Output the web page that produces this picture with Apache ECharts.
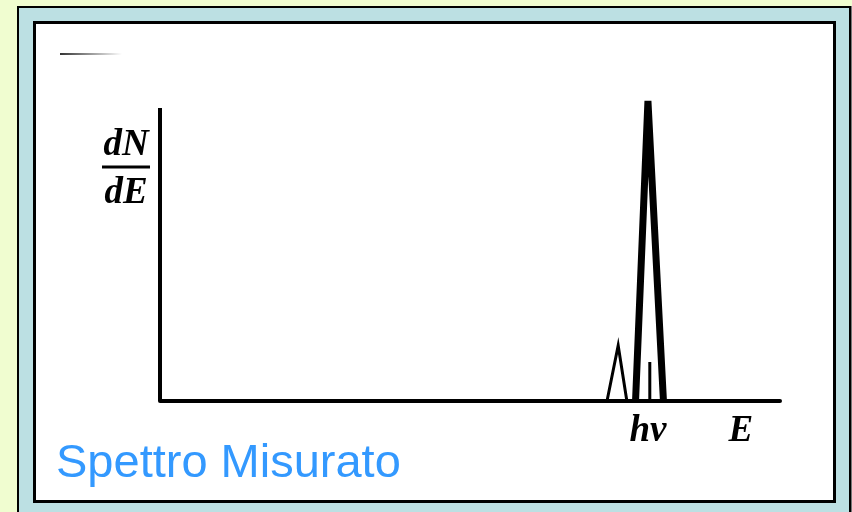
<!DOCTYPE html>
<html>
<head>
<meta charset="utf-8">
<script src="https://cdn.jsdelivr.net/npm/echarts@6/dist/echarts.min.js"></script>
<style>
  html, body { margin: 0; padding: 0; width: 852px; height: 512px; overflow: hidden; background: #f0fdd0; }
  #outer { position: absolute; left: 17px; top: 6px; width: 834px; height: 530px; box-sizing: border-box; background: #bce0e3; border: 2px solid #000; box-shadow: 1px 0 0 #777; }
  #inner { position: absolute; left: 33px; top: 21px; width: 803px; height: 482px; box-sizing: border-box; background: #fff; border: 3px solid #000; }
  #deco { position: absolute; left: 60px; top: 53px; width: 62px; height: 2px; background: linear-gradient(to right, #333, #fff); }
  #chart { position: absolute; left: 0; top: 0; width: 852px; height: 512px; }
</style>
</head>
<body>
<div id="outer"></div>
<div id="inner"></div>
<div id="deco"></div>
<div id="chart"></div>
<script>
// Energy axis (arbitrary units 0..100) and dN/dE (arbitrary units 0..100)
const mainPeakX = [76.7, 78.7, 81.2];
const mainPeakY = [0, 100, 0];
const smallPeakX = [72.1, 73.9, 75.3];
const smallPeakY = [0, 18.5, 0];
const innerBarX = [79.0, 79.0];
const innerBarY = [0, 13];
const yAxisLineX = [0, 0];
const yAxisLineY = [0, 97.7];
const tickValues = [78.7, 93.7];
const tickLabels = ['hν', 'E'];
const yLabelTop = 'dN';
const yLabelBottom = 'dE';
const captionText = 'Spettro Misurato';

const zip = (xs, ys) => xs.map((x, i) => [x, ys[i]]);
const serif = 'bold italic 37px "Liberation Serif", "DejaVu Serif", serif';

const chart = echarts.init(document.getElementById('chart'), null, { renderer: 'canvas' });
chart.setOption({
  backgroundColor: 'transparent',
  animation: false,
  grid: { left: 160, right: 72, top: 101, bottom: 111, containLabel: false },
  xAxis: {
    type: 'value', min: 0, max: 100,
    axisLine: { show: true, lineStyle: { color: '#000', width: 4 } },
    axisTick: { show: false },
    splitLine: { show: false },
    axisLabel: {
      customValues: tickValues,
      formatter: v => tickLabels[tickValues.indexOf(v)] || '',
      margin: 12,
      color: '#000',
      fontFamily: '"Liberation Serif", "DejaVu Serif", serif',
      fontStyle: 'italic', fontWeight: 'bold', fontSize: 37, lineHeight: 37,
      verticalAlign: 'top'
    }
  },
  yAxis: { type: 'value', min: 0, max: 100, show: false },
  series: [
    { type: 'line', data: zip(yAxisLineX, yAxisLineY), symbol: 'none', lineStyle: { color: '#000', width: 4 } },
    { type: 'line', data: zip(smallPeakX, smallPeakY), symbol: 'none', lineStyle: { color: '#000', width: 3, join: 'miter' } },
    { type: 'line', data: zip(mainPeakX, mainPeakY), symbol: 'none', lineStyle: { color: '#000', width: 7, join: 'miter' } },
    { type: 'line', data: zip(innerBarX, innerBarY), symbol: 'none', lineStyle: { color: '#000', width: 3 } }
  ],
  graphic: [
    { type: 'text', style: { text: yLabelTop, x: 126, y: 145, font: serif, fill: '#000', align: 'center', verticalAlign: 'middle' } },
    { type: 'line', shape: { x1: 102, y1: 167, x2: 150, y2: 167 }, style: { stroke: '#000', lineWidth: 3 } },
    { type: 'text', style: { text: yLabelBottom, x: 126, y: 193, font: serif, fill: '#000', align: 'center', verticalAlign: 'middle' } },
    { type: 'text', style: { text: captionText, x: 56, y: 464, font: '47px "Liberation Sans", Arial, sans-serif', fill: '#3399ff', align: 'left', verticalAlign: 'middle' } }
  ]
});
</script>
</body>
</html>
